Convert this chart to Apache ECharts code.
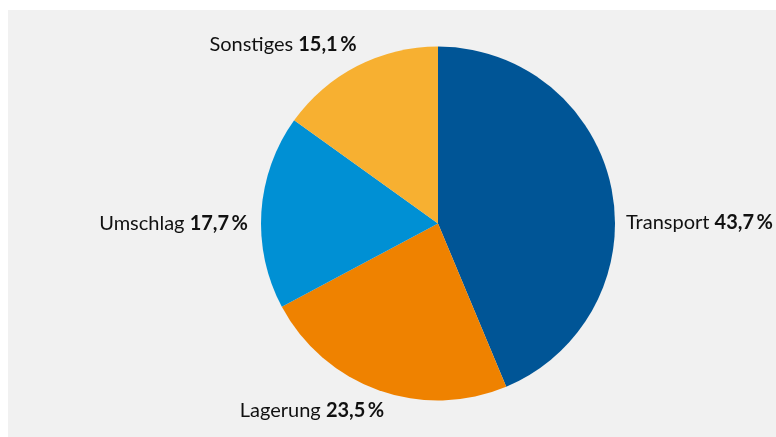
<!DOCTYPE html>
<html>
<head>
<meta charset="utf-8">
<script src="https://cdn.jsdelivr.net/npm/echarts@6/dist/echarts.min.js"></script>
<style>
  html, body { margin: 0; padding: 0; background: #ffffff; }
  #chart { position: absolute; left: 8px; top: 10px; width: 768px; height: 427px; }
</style>
</head>
<body>
<div id="chart"></div>
<script>
var categories = ['Transport', 'Lagerung', 'Umschlag', 'Sonstiges'];
var shares = [43.7, 23.5, 17.7, 15.1];
var colors = ['#005596', '#ef8200', '#0090d4', '#f7b031'];

// where each label sits (chart px) and how it is anchored
var labelSpots = [
    { x: 618, y: 213, align: 'left' },
    { x: 304, y: 401, align: 'center' },
    { x: 240, y: 214, align: 'right' },
    { x: 275, y: 35, align: 'center' }
];

var pieData = categories.map(function (name, i) {
    return { name: name, value: shares[i], itemStyle: { color: colors[i] } };
});

var chart = echarts.init(document.getElementById('chart'));

var option = {
    backgroundColor: '#f1f1f1',
    animation: false,
    series: [
        {
            type: 'pie',
            center: [430, 213.5],
            radius: 177,
            startAngle: 90,
            clockwise: true,
            data: pieData,
            itemStyle: { borderWidth: 0 },
            label: {
                show: true,
                position: 'outside',
                overflow: 'none',
                fontFamily: 'Lato',
                fontSize: 20,
                color: '#111111',
                formatter: function (p) {
                    return p.name + ' {b|' + p.value.toFixed(1).replace('.', ',') + '\u2009%}';
                },
                rich: {
                    b: { fontFamily: 'Lato', fontSize: 20, fontWeight: 'bold', color: '#111111' }
                }
            },
            labelLine: { show: false },
            labelLayout: function (p) {
                var s = labelSpots[p.dataIndex];
                return { x: s.x, y: s.y, align: s.align, verticalAlign: 'middle' };
            }
        }
    ]
};

chart.setOption(option);
</script>
</body>
</html>
